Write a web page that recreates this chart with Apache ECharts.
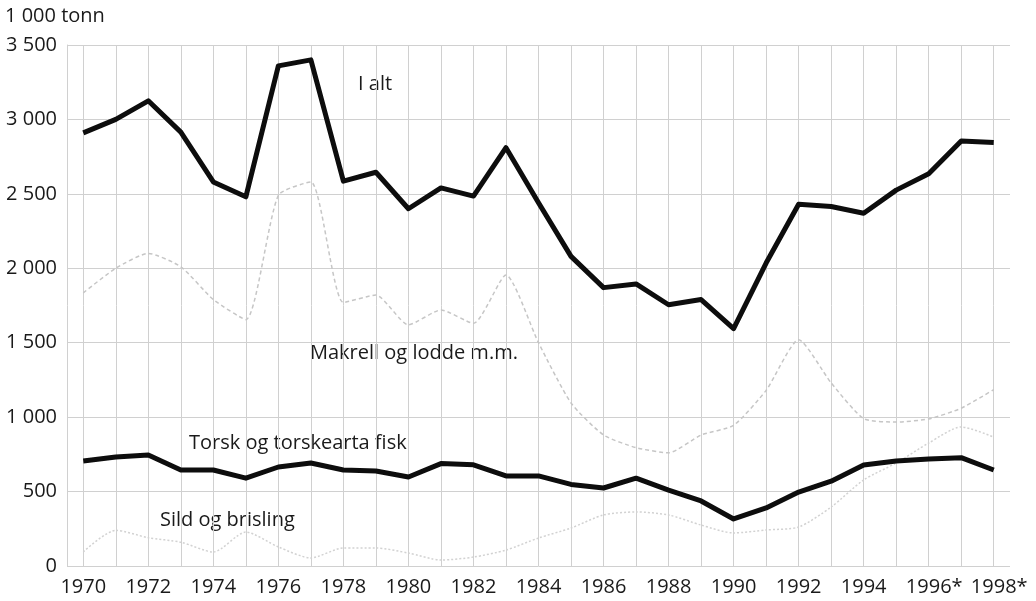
<!DOCTYPE html>
<html>
<head>
<meta charset="utf-8">
<script src="https://cdn.jsdelivr.net/npm/echarts@6/dist/echarts.min.js"></script>
<style>
  html, body { margin: 0; padding: 0; background: #fff; }
  #chart { width: 1036px; height: 601px; }
</style>
</head>
<body>
<div id="chart"></div>
<script>
// Fangst etter fiskeslag, 1 000 tonn
const years = ['1970','1971','1972','1973','1974','1975','1976','1977','1978','1979',
  '1980','1981','1982','1983','1984','1985','1986','1987','1988','1989',
  '1990','1991','1992','1993','1994','1995','1996*','1997*','1998*'];

const iAlt = [2910, 3000, 3125, 2915, 2580, 2480, 3360, 3400, 2585, 2645,
  2400, 2540, 2485, 2810, 2440, 2080, 1870, 1895, 1755, 1790,
  1595, 2035, 2430, 2415, 2370, 2525, 2635, 2855, 2845];

const torsk = [705, 732, 746, 645, 645, 590, 665, 692, 645, 638,
  598, 688, 680, 605, 605, 548, 524, 590, 510, 437,
  316, 390, 497, 570, 678, 705, 719, 728, 645];

const makrell = [1835, 2000, 2100, 2010, 1790, 1655, 2490, 2580, 1770, 1820,
  1620, 1720, 1630, 1955, 1500, 1095, 880, 795, 760, 880,
  945, 1180, 1520, 1230, 990, 967, 988, 1060, 1185];

const sild = [95, 240, 190, 160, 94, 228, 128, 54, 121, 121,
  87, 40, 60, 107, 188, 255, 343, 363, 343, 275,
  222, 242, 262, 396, 578, 692, 826, 934, 866];

const yTicks = { min: 0, max: 3500, step: 500 };

const FONT = '"Open Sans", "Noto Sans", sans-serif';
const FS = 20;
const INK = '#1a1a1a';
const GRID = '#d0d0d0';

function thousands(v) {
  return String(v).replace(/\B(?=(\d{3})+$)/g, ' ');
}

const chart = echarts.init(document.getElementById('chart'), null, { renderer: 'canvas' });

chart.setOption({
  animation: false,
  backgroundColor: '#fff',
  grid: { left: 67, right: 26, top: 45, bottom: 35 },
  xAxis: {
    type: 'category',
    data: years,
    boundaryGap: true,
    axisLine: { show: false },
    axisTick: { show: false },
    axisLabel: {
      interval: 1,
      margin: 11,
      color: INK,
      fontFamily: FONT,
      fontSize: FS,
      formatter: v => v.endsWith('*') ? '{s|' + v + '}' : v,
      rich: { s: { fontFamily: FONT, fontSize: FS, color: INK, padding: [0, 0, 0, 11] } }
    },
    splitLine: { show: true, alignWithLabel: true, interval: 0, lineStyle: { color: GRID, width: 1 } }
  },
  yAxis: {
    type: 'value',
    min: yTicks.min,
    max: yTicks.max,
    interval: yTicks.step,
    name: '1 000 tonn',
    nameLocation: 'end',
    nameGap: 19,
    nameTextStyle: { color: INK, fontFamily: FONT, fontSize: FS, align: 'left', padding: [0, 0, 0, -62] },
    axisLine: { show: true, lineStyle: { color: GRID, width: 1 } },
    axisTick: { show: false },
    axisLabel: { color: INK, fontFamily: FONT, fontSize: FS, margin: 10, formatter: thousands },
    splitLine: { show: true, lineStyle: { color: GRID, width: 1 } }
  },
  series: [
    {
      name: 'Makrell og lodde m.m.',
      type: 'line',
      data: makrell,
      smooth: 0.2,
      symbol: 'none',
      lineStyle: { color: '#c6c6c6', width: 1.5, type: [4, 3] },
      z: 2
    },
    {
      name: 'Sild og brisling',
      type: 'line',
      data: sild,
      smooth: 0.25,
      symbol: 'none',
      lineStyle: { color: '#d2d2d2', width: 1.5, type: [2, 2] },
      z: 2
    },
    {
      name: 'Torsk og torskearta fisk',
      type: 'line',
      data: torsk,
      symbol: 'none',
      lineStyle: { color: '#0d0d0d', width: 5, join: 'round' },
      z: 3
    },
    {
      name: 'I alt',
      type: 'line',
      data: iAlt,
      symbol: 'none',
      lineStyle: { color: '#0d0d0d', width: 5, join: 'round' },
      z: 3
    }
  ],
  graphic: [
    { type: 'text', left: 358, top: 74, style: { text: 'I alt', fill: INK, font: FS + 'px ' + FONT } },
    { type: 'text', left: 310, top: 343, style: { text: 'Makrell og lodde m.m.', fill: INK, font: FS + 'px ' + FONT } },
    { type: 'text', left: 189, top: 433, style: { text: 'Torsk og torskearta fisk', fill: INK, font: FS + 'px ' + FONT } },
    { type: 'text', left: 160, top: 510, style: { text: 'Sild og brisling', fill: INK, font: FS + 'px ' + FONT } }
  ]
});
</script>
</body>
</html>
